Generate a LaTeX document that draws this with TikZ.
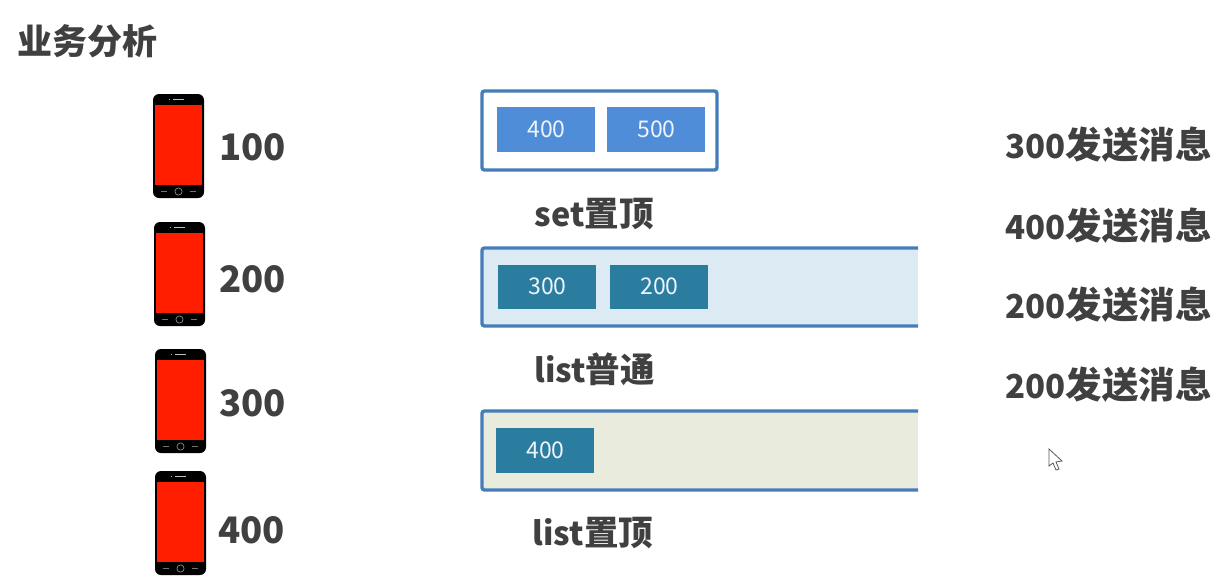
\documentclass[tikz,border=0pt]{standalone}
\usepackage{fontspec}
\setmainfont{Noto Sans CJK SC}
\usetikzlibrary{calc}
\definecolor{ink}{HTML}{404040}
\definecolor{frameblue}{HTML}{457CBA}
\definecolor{tileblue}{HTML}{4F8DD8}
\definecolor{tileteal}{HTML}{2A7D9F}
\definecolor{paleblue}{HTML}{DCEBF3}
\definecolor{palegreen}{HTML}{E9ECDD}
\definecolor{screenred}{HTML}{FF1E00}
% Chinese runs are set a little larger than the Latin letters beside them
\newcommand{\hanrun}[2]{{\fontsize{#1}{#1}\selectfont #2}}
\tikzset{
  x=1pt, y=-1pt,
  heading/.style={font=\fontsize{35}{40}\selectfont\bfseries, text=ink, inner sep=0pt, anchor=west},
  label/.style={font=\fontsize{32.5}{38}\selectfont\bfseries, text=ink, inner sep=0pt},
  number/.style={font=\fontsize{36.5}{42}\selectfont\bfseries, text=ink, inner sep=0pt, anchor=west},
  message/.style={font=\fontsize{33}{38}\selectfont\bfseries, text=ink, inner sep=0pt, anchor=east},
  tile/.style={minimum width=98pt, minimum height=44.5pt, inner sep=0pt, text=white!90!tileblue, font=\fontsize{23}{26}\selectfont},
  blue tile/.style={tile, fill=tileblue},
  teal tile/.style={tile, fill=tileteal},
  frameline/.style={draw=frameblue, line width=3.4pt, rounded corners=2.5pt},
}
% Smartphone icon: top-left corner at (#1,#2), 51 wide and 104 high
\newcommand{\phoneicon}[2]{
  \begin{scope}[shift={(#1,#2)}]
    \fill[black] (0,0) [rounded corners=6pt] -- (51,0) -- (51,104) -- (0,104) -- cycle;
    \fill[screenred] (2,10.5) rectangle (49,91);
    \fill[white!75!black] (20,5.2) rectangle (31,6.4);
    \fill[white!75!black] (15.5,5.2) rectangle (17,6.4);
    \draw[white!55!black, line width=.7pt] (25.5,97.5) circle (3.6);
    \draw[white!45!black, line width=.6pt] (8,97.5) -- (14,97.5);
    \draw[white!45!black, line width=.6pt] (37,97.5) -- (43,97.5);
  \end{scope}
}
\begin{document}
\begin{tikzpicture}
\useasboundingbox (0,0) rectangle (1226,587);
\fill[white] (0,0) rectangle (1226,587);

\node[heading] (title) at (17,41) {业务分析};

% Phones with their numbers
\phoneicon{153}{94}
\phoneicon{154}{222}
\phoneicon{155}{349}
\phoneicon{155}{471}
\node[number] (n100) at (219,147.5) {100};
\node[number] (n200) at (219,279.5) {200};
\node[number] (n300) at (219,403.5) {300};
\node[number] (n400) at (218,530.5) {400};

% Closed frame of the set
\draw[frameline, fill=white] (482,91) rectangle (717,170);
\node[blue tile] (s400) at (546,129.5) {\raisebox{.5pt}{\kern1pt 400}};
\node[blue tile] (s500) at (656,129.5) {\raisebox{.5pt}{\kern1pt 500}};
\node[label] (setlabel) at (594,214) {set\hanrun{34.5}{置顶}};

% Frames of the lists, open on the right
\fill[paleblue] (482,248) rectangle (918,326);
\draw[frameline] (918,248) -- (482,248) -- (482,326) -- (918,326);
\node[teal tile] (l300) at (547,287) {\raisebox{1pt}{\kern1pt 300}};
\node[teal tile] (l200) at (659,287) {\raisebox{1pt}{\kern1pt 200}};
\node[label] (listlabel) at (594.5,369) {list\hanrun{34.5}{普通}};

\fill[palegreen] (482,411) rectangle (918,490);
\draw[frameline] (918,411) -- (482,411) -- (482,490) -- (918,490);
\node[teal tile] (t400) at (545,450.5) {\raisebox{.5pt}{\kern1pt 400}};
\node[label] (toplabel) at (593,533) {list\hanrun{34.5}{置顶}};

% Message log on the right
\node[message] (m1) at (1212,145) {300\hanrun{36.5}{发送消息}};
\node[message] (m2) at (1212,226) {400\hanrun{36.5}{发送消息}};
\node[message] (m3) at (1212,305) {200\hanrun{36.5}{发送消息}};
\node[message] (m4) at (1212,385) {200\hanrun{36.5}{发送消息}};

% Mouse pointer
\draw[black!65, fill=white, line width=.8pt, line join=miter]
  (1049,449) -- (1049,466) -- (1053,463) -- (1056,470) -- (1059,469) -- (1056,462) -- (1062,461) -- cycle;
\end{tikzpicture}
\end{document}
